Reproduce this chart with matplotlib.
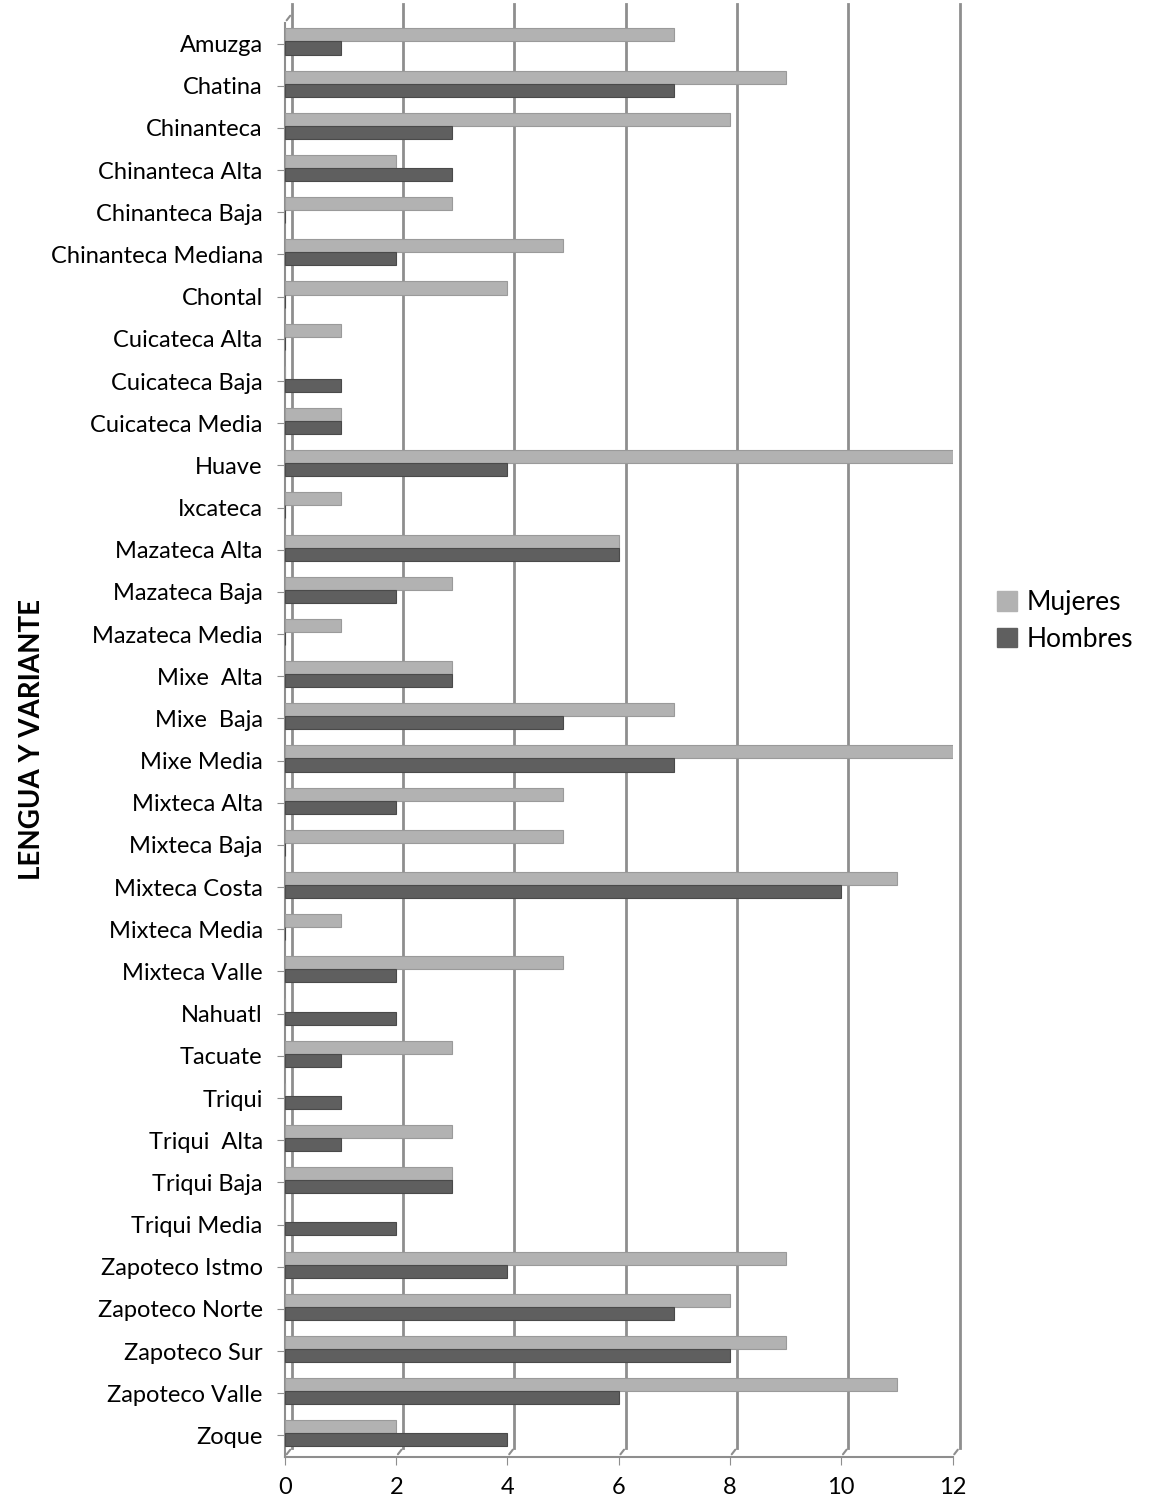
import numpy as np
import matplotlib.pyplot as plt
import matplotlib.transforms as mtransforms
from matplotlib.patches import Patch

plt.rcParams['font.family'] = ['Lato', 'DejaVu Sans']

lenguas = ['Amuzga', 'Chatina', 'Chinanteca', 'Chinanteca Alta', 'Chinanteca Baja',
           'Chinanteca Mediana', 'Chontal', 'Cuicateca Alta', 'Cuicateca Baja',
           'Cuicateca Media', 'Huave', 'Ixcateca', 'Mazateca Alta', 'Mazateca Baja',
           'Mazateca Media', 'Mixe  Alta', 'Mixe  Baja', 'Mixe Media', 'Mixteca Alta',
           'Mixteca Baja', 'Mixteca Costa', 'Mixteca Media', 'Mixteca Valle', 'Nahuatl',
           'Tacuate', 'Triqui', 'Triqui  Alta', 'Triqui Baja', 'Triqui Media',
           'Zapoteco Istmo', 'Zapoteco Norte', 'Zapoteco Sur', 'Zapoteco Valle', 'Zoque']
mujeres = [7, 9, 8, 2, 3, 5, 4, 1, 0, 1, 12, 1, 6, 3, 1, 3, 7, 12, 5, 5, 11, 1, 5, 0,
           3, 0, 3, 3, 0, 9, 8, 9, 11, 2]
hombres = [1, 7, 3, 3, 0, 2, 0, 0, 1, 1, 4, 0, 6, 2, 0, 3, 5, 7, 2, 0, 10, 0, 2, 2,
           1, 1, 1, 3, 2, 4, 7, 8, 6, 4]

c_muj = '#b2b2b2'
c_hom = '#5f5f5f'
c_grid = '#8e8e8e'

fig = plt.figure(figsize=(11.49, 15), dpi=100)
ax = fig.add_axes([0.248, 0.029, 0.581, 0.956])

y = np.arange(len(lenguas))
h = 0.31
ax.barh(y - h / 2 - 0.05, mujeres, height=h, color=c_muj, edgecolor='#9a9a9a', linewidth=0.8, zorder=3)
ax.barh(y + h / 2 - 0.05, hombres, height=h, color=c_hom, edgecolor='#4a4a4a', linewidth=0.8, zorder=3)

ax.set_xlim(0, 12)
ax.set_ylim(len(lenguas) - 0.5, -0.5)
ax.set_xticks(np.arange(0, 13, 2))
ax.set_yticks(y)
ax.set_yticklabels(lenguas)

# pseudo 3D back wall gridlines
off = mtransforms.ScaledTranslation(7 / 100, 9 / 100, fig.dpi_scale_trans)
for xv in np.arange(0, 13, 2):
    ax.plot([xv, xv], [len(lenguas) - 0.5, -0.72], color=c_grid, lw=2,
            transform=ax.transData + off, zorder=1, clip_on=False)
    ax.annotate('', xy=(xv, len(lenguas) - 0.5), xycoords=ax.transData + off,
                xytext=(xv, len(lenguas) - 0.5), textcoords='data',
                arrowprops=dict(arrowstyle='-', color=c_grid, lw=1.5))
ax.annotate('', xy=(0, -0.5), xycoords=ax.transData + off,
            xytext=(0, -0.5), textcoords='data',
            arrowprops=dict(arrowstyle='-', color=c_grid, lw=1.5))

for s in ['top', 'right']:
    ax.spines[s].set_visible(False)
ax.spines['left'].set_color(c_grid)
ax.spines['bottom'].set_color(c_grid)
ax.spines['left'].set_linewidth(1.5)
ax.spines['bottom'].set_linewidth(1.5)
ax.tick_params(axis='y', length=6, color=c_grid, labelsize=17, pad=10)
ax.tick_params(axis='x', length=6, color=c_grid, labelsize=17, pad=9)

ax.set_ylabel('LENGUA Y VARIANTE', fontsize=20, fontweight='bold')
ax.yaxis.set_label_coords(-0.36, 0.5)

handles = [Patch(color=c_muj, label='Mujeres'), Patch(color=c_hom, label='Hombres')]
fig.legend(handles=handles, loc='center left', bbox_to_anchor=(0.868, 0.586),
           frameon=False, fontsize=19, handlelength=0.75, handleheight=0.75,
           handletextpad=0.35, labelspacing=0.45, borderpad=0, borderaxespad=0)

fig.savefig('out.png', dpi=100)
